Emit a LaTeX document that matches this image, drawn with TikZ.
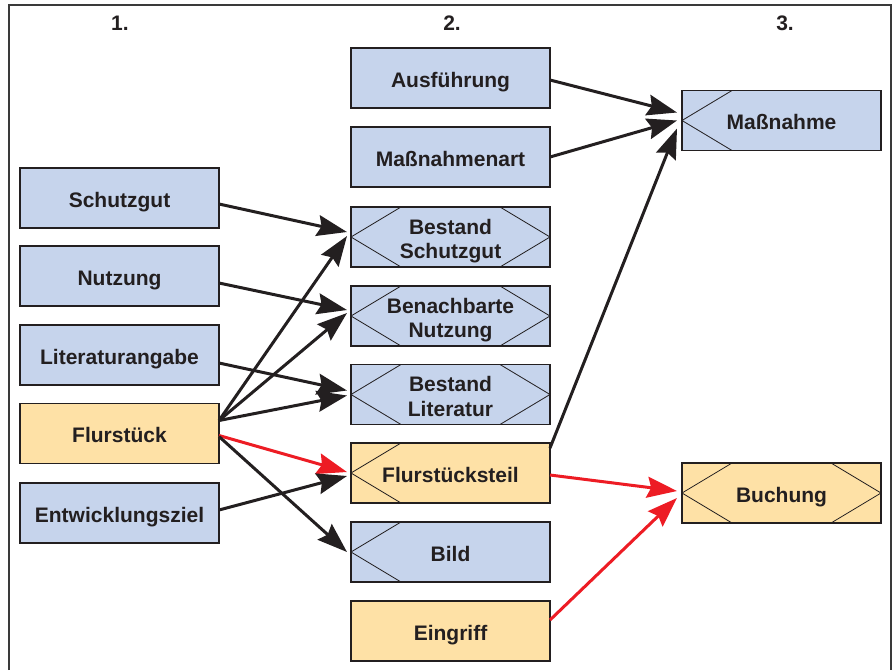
\documentclass[tikz,border=0pt]{standalone}
\usepackage{fontspec}
\setmainfont{Liberation Sans}
\usetikzlibrary{arrows.meta,calc}
\definecolor{bluefill}{HTML}{C6D4EC}
\definecolor{orangefill}{HTML}{FEE1A6}
\definecolor{arrred}{HTML}{ED1C24}
\definecolor{ink}{HTML}{231F20}
\definecolor{framegray}{HTML}{3A3A3A}
\tikzset{
  box/.style={draw=ink, line width=1.1pt, minimum width=199pt, minimum height=60pt,
    inner sep=0pt, outer sep=0pt, align=center, text=ink,
    text height=20.5pt, text depth=2pt,
    font=\fontsize{21}{24.5}\selectfont\bfseries},
  twolines/.style={text height=45.5pt, text depth=2pt},
  bbox/.style={box, fill=bluefill},
  obox/.style={box, fill=orangefill},
  chev/.style={draw=ink, line width=0.8pt},
  arr/.style={draw=ink, line width=3pt, -{Stealth[length=30pt,width=21pt,inset=4pt]}},
  redarr/.style={arr, draw=arrred, -{Stealth[length=30pt,width=21pt,inset=4pt,color=arrred]}},
  hdr/.style={text=ink, font=\fontsize{21}{24}\selectfont\bfseries}
}
\newcommand{\lchev}[1]{\draw[chev] ([xshift=50pt]#1.north west) -- (#1.west) -- ([xshift=50pt]#1.south west);}
\newcommand{\rchev}[1]{\draw[chev] ([xshift=-50pt]#1.north east) -- (#1.east) -- ([xshift=-50pt]#1.south east);}
\begin{document}
\begin{tikzpicture}[x=1pt,y=-1pt]
\useasboundingbox (0,0) rectangle (893,670);
\draw[framegray, line width=1.6pt] (9,670) -- (9,5) -- (891,5) -- (891,670);

\node[hdr] (h1) at (120,23) {1.};
\node[hdr] (h2) at (452,23) {2.};
\node[hdr] (h3) at (785,23) {3.};

% column 1
\node[bbox] (schutz) at (119.5,198) {Schutzgut};
\node[bbox] (nutz) at (119.5,276) {Nutzung};
\node[bbox] (lit) at (119.5,355) {Literaturangabe};
\node[obox] (flur) at (119.5,433.5) {Flurstück};
\node[bbox] (entw) at (119.5,513) {Entwicklungsziel};

% column 2
\node[bbox] (ausf) at (450.5,78) {Ausführung};
\node[bbox] (mart) at (450.5,157) {Maßnahmenart};
\node[bbox, twolines] (bschutz) at (450.5,237) {Bestand\\Schutzgut};
\node[bbox, twolines] (bnutz) at (450.5,316) {Benachbarte\\Nutzung};
\node[bbox, twolines] (blit) at (450.5,394.5) {Bestand\\Literatur};
\node[obox] (fteil) at (450.5,473) {Flurstücksteil};
\node[bbox] (bild) at (450.5,552) {Bild};
\node[obox] (eingr) at (450.5,631) {Eingriff};

% column 3
\node[bbox] (massn) at (781.5,120.5) {Maßnahme};
\node[obox] (buch) at (781.5,493) {Buchung};

\lchev{bschutz}\rchev{bschutz}
\lchev{bnutz}\rchev{bnutz}
\lchev{blit}\rchev{blit}
\lchev{fteil}
\lchev{bild}
\lchev{massn}
\lchev{buch}\rchev{buch}

% arrows
\draw[arr] ($(ausf.east)+(0,2)$) -- ($(massn.west)+(-5,-8)$);
\draw[arr] ($(mart.east)+(0,0)$) -- ($(massn.west)+(-5,0)$);
\draw[arr] ($(fteil.east)+(0,-25)$) -- ($(massn.west)+(-5,8)$);

\draw[arr] ($(schutz.east)+(0,6)$) -- ($(bschutz.west)+(-4,-5)$);
\draw[arr] ($(nutz.east)+(0,7)$) -- ($(bnutz.west)+(-4,-6)$);
\draw[arr] ($(lit.east)+(0,8)$) -- ($(blit.west)+(-4,-4)$);

\draw[arr] ($(flur.east)+(0,-13)$) -- ($(bschutz.west)+(-4,-1)$);
\draw[arr] ($(flur.east)+(0,-13)$) -- ($(bnutz.west)+(-4,-3)$);
\draw[arr] ($(flur.east)+(0,-13)$) -- ($(blit.west)+(-4,1)$);
\draw[redarr] ($(flur.east)+(0,2)$) -- ($(fteil.west)+(-4,-1)$);
\draw[arr] ($(flur.east)+(0,3)$) -- ($(bild.west)+(-4,0)$);
\draw[arr] ($(entw.east)+(0,-3)$) -- ($(fteil.west)+(-4,3)$);

\draw[redarr] ($(fteil.east)+(0,2)$) -- ($(buch.west)+(-5,-2)$);
\draw[redarr] ($(eingr.east)+(0,-11)$) -- ($(buch.west)+(-5,5)$);
\end{tikzpicture}
\end{document}
